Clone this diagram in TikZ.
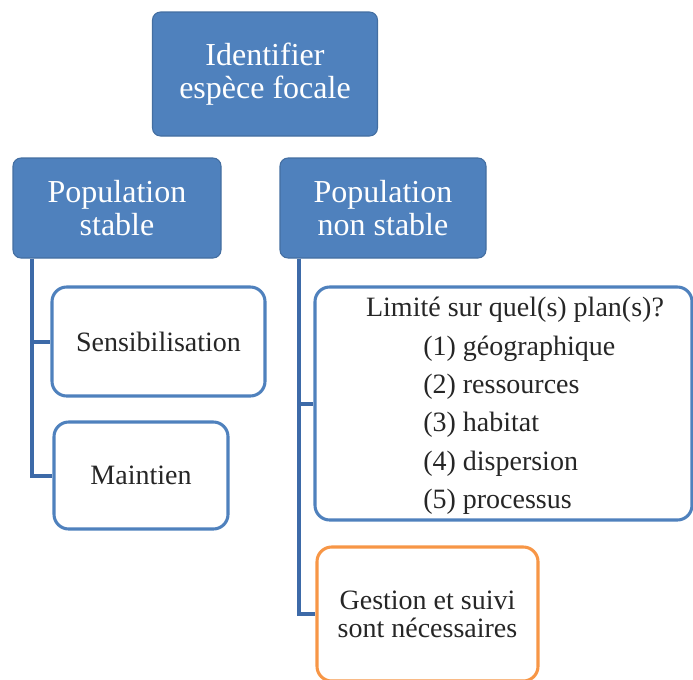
\documentclass[tikz,border=0pt]{standalone}
\usepackage{fontspec}
\setmainfont{Liberation Serif}
\definecolor{boxblue}{HTML}{4F81BD}
\definecolor{linkblue}{HTML}{3D6AA8}
\definecolor{boxorange}{HTML}{F79646}
\tikzset{
	headbox/.style={rectangle, rounded corners=6pt, fill=boxblue, draw=boxblue!85!black, line width=0.8pt,
		text=white, align=center, inner sep=0pt, font=\fontsize{24}{25}\selectfont},
	leafbox/.style={rectangle, rounded corners=11pt, draw=boxblue, line width=2.3pt, fill=white,
		text=black!85, align=center, inner sep=0pt, font=\fontsize{21}{21}\selectfont},
	itemtext/.style={text=black!85, inner sep=0pt, font=\fontsize{21}{21}\selectfont},
	link/.style={draw=linkblue, line width=3pt}
}
\begin{document}
\begin{tikzpicture}[x=0.75pt,y=-0.75pt]
	\useasboundingbox (0,0) rectangle (693,679);
	
	\node[headbox, minimum width=168.75pt, minimum height=93pt] (focal) at (265,74) {Identifier\\espèce focale};
	\node[headbox, minimum width=156pt, minimum height=75pt] (stable) at (117,208) {Population\\stable};
	\node[headbox, minimum width=154.5pt, minimum height=75pt] (instable) at (383,208) {Population\\non stable};
	
	\node[leafbox, minimum width=159.75pt, minimum height=81.75pt] (sens) at (158.5,341.5) {Sensibilisation};
	\node[leafbox, minimum width=130.5pt, minimum height=80.25pt] (maint) at (141,475.5) {Maintien};
	\node[leafbox, minimum width=282.75pt, minimum height=174.75pt] (lim) at (503.5,403.5) {};
	\node[leafbox, draw=boxorange, minimum width=165.75pt, minimum height=100.5pt] (gest) at (427.5,614)
		{Gestion et suivi\\sont nécessaires};
	
	% texte du cadre
	\node[itemtext] (titre) at (515,310) {Limité sur quel(s) plan(s)?};
	\foreach \i/\t in {1/géographique,2/ressources,3/habitat,4/dispersion,5/processus}
		\node[itemtext, anchor=west] (item\i) at (423,310+38.4*\i) {(\i) \t};
	
	\draw[link] ([xshift=15pt]stable.south west) |- (sens.west);
	\draw[link] ([xshift=15pt]stable.south west) |- (maint.west);
	\draw[link] ([xshift=15pt]instable.south west) |- (lim.west);
	\draw[link] ([xshift=15pt]instable.south west) |- (gest.west);
\end{tikzpicture}
\end{document}
